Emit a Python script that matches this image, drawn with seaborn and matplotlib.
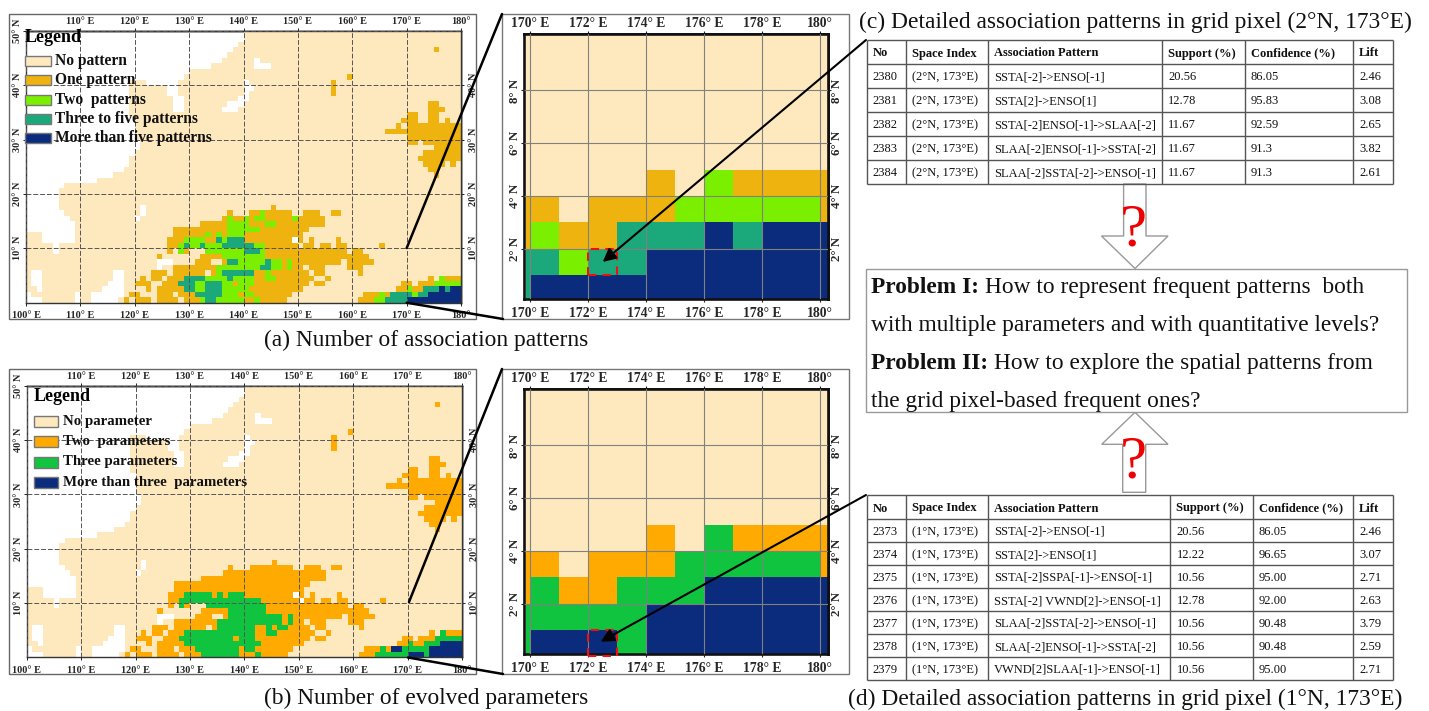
import matplotlib
matplotlib.use("Agg")
import matplotlib.pyplot as plt
from matplotlib.colors import ListedColormap
from matplotlib.patches import Polygon, Rectangle
import numpy as np
import seaborn as sns

W, H = 1429, 711

# Grid rows are run lengths: letter = class, number = last column (1 deg cells, from 100E)
# w = land (no data), n = none, a b c d = rising classes
UPPER_ROWS = [  # 50N down to 17N, same in both maps
    "w40 n80", "w40 n80", "w39 n80", "w38 n75 a76 n80", "w37 n80",
    "w36 n42 w43 n80", "w34 n42 w45 n80", "w30 n80", "w29 n59 a60 n80",
    "w19 n22 w28 n40 w41 n56 a57 n80", "w19 n26 w28 n40 w42 n56 a57 n80",
    "w19 n26 w28 n40 w41 n56 a57 n80", "w19 n27 w29 n39 w41 n80",
    "w19 n27 w29 n37 w40 n74 a76 n80", "w19 n27 w29 n36 w39 n74 a77 n80",
    "w19 n70 a72 n74 a76 n80", "w20 n69 a72 n74 a76 n77 a78 n80",
    "w20 n68 a69 n70 a80", "w20 n66 a80", "w20 n70 a80",
    "w21 n70 a72 n73 a80", "w21 n75 a80", "w20 n73 a80", "w19 n72 a80",
    "w19 n73 a77 n78 a79 n80", "w18 n74 a76 n80", "w16 n75 a76 n80",
    "w13 n80", "w7 n80", "w6 n80", "w6 n80", "w6 n80", "w6 n21 w22 n45 a46 n80",
]
PATTERN_ROWS = [  # 16N down to 0N
    "w7 n21 w22 n37 a38 n41 a43 b44 a49 n51 a54 n56 a58 n80",
    "w8 n20 w21 n36 a37 b38 a40 b41 a42 b44 a49 b50 a55 n80",
    "w9 n32 a37 b41 a44 b46 a55 n80",
    "w9 n27 a37 b43 a52 n80",
    "n3 w9 n27 a33 b34 a35 b36 a37 b40 a51 n80",
    "n3 w9 n26 a29 b33 a35 c36 b37 c40 a49 w50 a51 n52 a53 n57 a58 n80",
    "n5 w6 n26 a28 b29 c30 b32 c33 b36 c42 b44 a50 n51 a53 n54 a56 n57 a59 n65 a66 n80",
    "n5 w6 n26 a27 n28 b29 a30 n33 b40 c43 b44 a59 n60 a62 n80",
    "n24 a25 n32 a36 b44 a63 n80",
    "n24 w27 n31 a34 n36 a37 c39 b44 c45 b47 a48 b49 a58 n59 a64 n80",
    "n24 w25 n27 a35 b43 c45 b47 a48 b49 a51 n52 a55 n59 a62 n80",
    "n1 w3 n16 w18 n23 a26 n27 a33 n34 a35 b36 c42 a44 b45 a52 n53 a55 n61 a62 n80",
    "n1 w3 n16 w18 n21 a22 n23 a25 n26 a29 c33 b37 c38 b42 a44 b46 a53 n55 a56 n74 a75 n76 b77 a80",
    "n1 w3 n15 w18 n20 a23 n25 a28 c31 b33 c36 b38 a39 b42 a52 n53 a55 n69 a71 n72 a75 b80",
    "n2 w3 n14 w18 n22 a23 n24 a29 c31 b33 c36 b41 a51 n68 a70 b71 a73 c76 d77 c78 d80",
    "w1 n9 w10 n12 w18 n19 a21 n24 a27 n28 a31 c36 b39 a40 b42 a49 n62 a65 b66 a67 c71 b72 c74 d80",
    "w3 n9 w10 n12 w17 n18 a19 n20 a23 n24 a28 n29 a32 b33 c35 b40 a42 b43 a48 n61 a64 b66 c70 d80",
]
PARAM_ROWS = [  # 16N down to 0N
    "w7 n21 w22 n37 a38 n41 a49 n51 a54 n56 a58 n80",
    "w8 n20 w21 n36 a55 n80",
    "w9 n32 a55 n80",
    "w9 n27 a52 n80",
    "n3 w9 n27 a51 n80",
    "n3 w9 n26 a29 b34 a35 b36 a37 b40 a49 w50 a51 n52 a53 n57 a58 n80",
    "n5 w6 n26 a28 b43 a50 w51 a53 n54 a56 n57 a59 n65 a66 n80",
    "n5 w6 n26 a27 n28 b29 a30 n33 b44 a59 n60 a62 n80",
    "n24 a25 n32 a37 b44 a63 n80",
    "n24 w27 n31 a34 n36 a37 b47 a48 b49 a58 n59 a64 n80",
    "n24 w25 n27 a35 b47 a48 b49 a51 n52 a55 n59 a62 n80",
    "n1 w3 n16 w18 n23 a26 n27 a33 n34 a35 b42 a44 b45 a46 b48 a52 n53 a55 n61 a62 n80",
    "n1 w3 n16 w18 n21 a22 n23 a25 n26 a29 b42 a44 b46 a53 n55 a56 n74 a75 n76 b77 a80",
    "n1 w3 n15 w18 n20 a23 n25 a28 b38 a39 b42 a52 n53 a55 n69 a71 n72 a75 b80",
    "n2 w3 n14 w18 n22 a23 n24 a29 b43 a51 n68 a70 b71 a73 b76 c80",
    "w1 n9 w10 n12 w18 n19 a21 n24 a27 n28 a31 b39 a40 b42 a49 n62 a65 b66 a67 c69 b74 c80",
    "w3 n9 w10 n12 w17 n18 a19 n20 a23 n24 a28 n29 a32 b39 a42 b43 a48 n61 a64 b70 c73 b74 c80",
]
# cells just past 180E, seen only in the zoomed maps (0N up to 10N)
PATTERN_EDGE = [4, 4, 4, 1, 1, 0, 0, 0, 0, 0, 0]
PARAM_EDGE = [3, 3, 3, 1, 1, 0, 0, 0, 0, 0, 0]

PATTERN_COLORS = ["#FEE9BE", "#EFB30F", "#7AF000", "#1BA97C", "#0B2C7C"]
PARAM_COLORS = ["#FEE9BE", "#FFAA00", "#10C440", "#0B2C7C"]
PATTERN_LABELS = ["No pattern", "One pattern", "Two  patterns", "Three to five patterns", "More than five patterns"]
PARAM_LABELS = ["No parameter", "Two  parameters", "Three parameters", "More than three  parameters"]

LON_TICKS = [100, 110, 120, 130, 140, 150, 160, 170, 180]
LAT_TICKS = [10, 20, 30, 40, 50]
ZOOM_LON_TICKS = [170, 172, 174, 176, 178, 180]
ZOOM_LAT_TICKS = [2, 4, 6, 8]

TABLE_HEADER = ["No", "Space Index", "Association Pattern", "Support (%)", "Confidence (%)", "Lift"]
TABLE_C = [
    ["2380", "(2°N, 173°E)", "SSTA[-2]->ENSO[-1]", "20.56", "86.05", "2.46"],
    ["2381", "(2°N, 173°E)", "SSTA[2]->ENSO[1]", "12.78", "95.83", "3.08"],
    ["2382", "(2°N, 173°E)", "SSTA[-2]ENSO[-1]->SLAA[-2]", "11.67", "92.59", "2.65"],
    ["2383", "(2°N, 173°E)", "SLAA[-2]ENSO[-1]->SSTA[-2]", "11.67", "91.3", "3.82"],
    ["2384", "(2°N, 173°E)", "SLAA[-2]SSTA[-2]->ENSO[-1]", "11.67", "91.3", "2.61"],
]
TABLE_D = [
    ["2373", "(1°N, 173°E)", "SSTA[-2]->ENSO[-1]", "20.56", "86.05", "2.46"],
    ["2374", "(1°N, 173°E)", "SSTA[2]->ENSO[1]", "12.22", "96.65", "3.07"],
    ["2375", "(1°N, 173°E)", "SSTA[-2]SSPA[-1]->ENSO[-1]", "10.56", "95.00", "2.71"],
    ["2376", "(1°N, 173°E)", "SSTA[-2] VWND[2]->ENSO[-1]", "12.78", "92.00", "2.63"],
    ["2377", "(1°N, 173°E)", "SLAA[-2]SSTA[-2]->ENSO[-1]", "10.56", "90.48", "3.79"],
    ["2378", "(1°N, 173°E)", "SLAA[-2]ENSO[-1]->SSTA[-2]", "10.56", "90.48", "2.59"],
    ["2379", "(1°N, 173°E)", "VWND[2]SLAA[-1]->ENSO[-1]", "10.56", "95.00", "2.71"],
]

sns.set_theme(style="white")
plt.rcParams["font.family"] = ["Liberation Serif", "DejaVu Serif"]


def decode(rows):
    # rows come north first, the grid is returned south first
    codes = {"w": np.nan, "n": 0, "a": 1, "b": 2, "c": 3, "d": 4}
    grid = []
    for row in rows:
        cells = []
        for run in row.split():
            cells += [codes[run[0]]] * (int(run[1:]) - len(cells))
        grid.append(cells)
    return np.array(grid[::-1])


def px_axes(x0, y0, x1, y1):
    return fig.add_axes([x0 / W, 1 - y1 / H, (x1 - x0) / W, (y1 - y0) / H])


def rotate_y(ax_y):
    for t in ax_y.get_ticklabels():
        t.set_rotation(90)
        t.set_va("center")


def draw_map(grid, colors, box):
    ax = px_axes(*box)
    sns.heatmap(grid, ax=ax, mask=np.isnan(grid), cmap=ListedColormap(colors), vmin=0, vmax=len(colors) - 1,
                cbar=False, xticklabels=False, yticklabels=False)
    ax.set_xlim(0, 80)
    ax.set_ylim(0, 50)
    ax.set_xticks([v - 100 for v in LON_TICKS])
    ax.set_xticklabels([f"{v}° E" for v in LON_TICKS[:-1]] + ["180°"], fontsize=7.4, fontweight="bold")
    ax.set_yticks(LAT_TICKS)
    ax.set_yticklabels([f"{v}° N" for v in LAT_TICKS], fontsize=7.4, fontweight="bold")
    rotate_y(ax.yaxis)
    ax.tick_params(axis="x", length=2.5, width=0.7, pad=3.5, color="#222222", bottom=True)
    ax.tick_params(axis="y", length=2.5, width=0.7, pad=0.5, color="#222222", left=True)
    ax.grid(True, color="#555555", lw=0.7, ls=(0, (5, 2)))
    ax.set_axisbelow(False)
    top = ax.secondary_xaxis("top")
    top.set_xticks([v - 100 for v in LON_TICKS[1:]])
    top.set_xticklabels([f"{v}° E" for v in LON_TICKS[1:-1]] + ["180°"], fontsize=7.4, fontweight="bold")
    top.tick_params(length=2.5, width=0.7, pad=1, color="#222222")
    right = ax.secondary_yaxis("right")
    right.set_yticks(LAT_TICKS[:-1])
    right.set_yticklabels([f"{v}° N" for v in LAT_TICKS[:-1]], fontsize=7.4, fontweight="bold")
    right.tick_params(length=2.5, width=0.7, pad=3, color="#222222")
    rotate_y(right.yaxis)
    for sp in list(ax.spines.values()) + list(top.spines.values()) + list(right.spines.values()):
        sp.set_visible(True)
        sp.set_linewidth(1)
        sp.set_color("#333333")
    return ax


def draw_zoom(grid, edge, colors, box, cell_lat):
    # columns 169..180E, rows 0..10N
    sub = np.column_stack([grid[:11, 69:80], edge])
    ax = px_axes(*box)
    sns.heatmap(sub, ax=ax, cmap=ListedColormap(colors), vmin=0, vmax=len(colors) - 1,
                cbar=False, xticklabels=False, yticklabels=False)
    ax.set_xlim(0.79, 11.26)
    ax.set_ylim(0.1, 10.13)
    ax.axvspan(0.79, 0.85, color="white", lw=0, zorder=1)
    ax.axhspan(10.05, 10.13, color="white", lw=0, zorder=1)
    ax.set_xticks([v - 169 for v in ZOOM_LON_TICKS])
    labels = [f"{v}° E" for v in ZOOM_LON_TICKS[:-1]] + ["180°"]
    ax.set_xticklabels(labels, fontsize=9.8, fontweight="bold")
    ax.set_yticks(ZOOM_LAT_TICKS)
    ax.set_yticklabels([f"{v}° N" for v in ZOOM_LAT_TICKS], fontsize=9.4, fontweight="bold")
    rotate_y(ax.yaxis)
    ax.tick_params(axis="x", length=2.5, width=0.8, pad=3.5, color="#222222", bottom=True)
    ax.tick_params(axis="y", length=2.5, width=0.8, pad=0, color="#222222", left=True)
    ax.grid(True, color="#808080", lw=0.8)
    ax.set_axisbelow(False)
    top = ax.secondary_xaxis("top")
    top.set_xticks([v - 169 for v in ZOOM_LON_TICKS])
    top.set_xticklabels(labels, fontsize=9.8, fontweight="bold")
    top.tick_params(length=2.5, width=0.8, pad=0.5, color="#222222")
    right = ax.secondary_yaxis("right")
    right.set_yticks(ZOOM_LAT_TICKS)
    right.set_yticklabels([f"{v}° N" for v in ZOOM_LAT_TICKS], fontsize=9.4, fontweight="bold")
    right.tick_params(length=2.5, width=0.8, pad=0, color="#222222")
    rotate_y(right.yaxis)
    for sp in list(ax.spines.values()) + list(top.spines.values()) + list(right.spines.values()):
        sp.set_visible(True)
        sp.set_linewidth(1.9)
        sp.set_color("#111111")
    ax.add_patch(Rectangle((3, cell_lat), 1, 1, fill=False, ec="#EE1111", lw=1.5, ls=(0, (4, 3)), zorder=5, clip_on=False))
    return ax


def legend(x_patch, x_text, ys, labels, colors, title_xy, title_size, size, patch_w, patch_h):
    over.text(title_xy[0], title_xy[1], "Legend", fontsize=title_size, fontweight="bold", va="center", color="black")
    for y, lab, col in zip(ys, labels, colors):
        over.add_patch(Rectangle((x_patch, y - patch_h / 2), patch_w, patch_h, fc=col, ec="#777777", lw=1))
        over.text(x_text, y, lab, fontsize=size, fontweight="bold", va="center", color="#111111")


def table(xs, ys, header, rows):
    for x in xs:
        over.plot([x, x], [ys[0], ys[-1]], color="#555555", lw=1, solid_capstyle="butt")
    for y in ys:
        over.plot([xs[0], xs[-1]], [y, y], color="#555555", lw=1, solid_capstyle="butt")
    for j, name in enumerate(header):
        over.text(xs[j] + 6, (ys[0] + ys[1]) / 2, name, fontsize=9, fontweight="bold", va="center_baseline", color="#111111")
    for i, row in enumerate(rows):
        for j, val in enumerate(row):
            over.text(xs[j] + 6, (ys[i + 1] + ys[i + 2]) / 2, val, fontsize=9, va="center_baseline", color="#111111")


def block_arrow(points, qx, qy):
    over.add_patch(Polygon(points, closed=True, fc="white", ec="#999999", lw=1))
    over.text(qx, qy, "?", color="#EE0000", fontsize=44, ha="center", va="baseline")


fig = plt.figure(figsize=(W / 100, H / 100), dpi=100)

pattern_grid = decode(UPPER_ROWS + PATTERN_ROWS)
param_grid = decode(UPPER_ROWS + PARAM_ROWS)

draw_map(pattern_grid, PATTERN_COLORS, (26, 30.7, 461, 302.7))
draw_map(param_grid, PARAM_COLORS, (26.7, 385.7, 462, 657.3))
draw_zoom(pattern_grid, PATTERN_EDGE, PATTERN_COLORS, (524, 34.3, 827.7, 298.7), 1)
draw_zoom(param_grid, PARAM_EDGE, PARAM_COLORS, (524, 389.3, 827.7, 653.7), 0)

# everything else sits on one sheet in pixel units
over = px_axes(0, 0, W, H)
over.set_xlim(0, W)
over.set_ylim(H, 0)
over.axis("off")
over.patch.set_alpha(0)

for y0, y1 in [(14, 319), (369, 674)]:
    over.add_patch(Rectangle((9.5, y0), 466.5, y1 - y0, fill=False, ec="#666666", lw=1))
    over.add_patch(Rectangle((502, y0), 347, y1 - y0, fill=False, ec="#777777", lw=1))

for x0, y0, x1, y1 in [(406.7, 248, 502, 14), (406.7, 302.7, 503, 319), (409, 602, 502, 369), (408, 657.5, 503, 674)]:
    over.plot([x0, x1], [y0, y1], color="black", lw=1.8, solid_capstyle="round")

legend(25, 55, [60.7, 80.3, 99.7, 119, 138.3], PATTERN_LABELS, PATTERN_COLORS, (25, 38), 13, 11.2, 25.7, 10)
legend(34, 62.7, [421, 441.7, 462, 482.3], PARAM_LABELS, PARAM_COLORS, (34, 396.7), 13, 10.7, 24, 11)

over.text(426, 340, "(a) Number of association patterns", fontsize=16.8, ha="center", va="center", color="#111111")
over.text(426, 698, "(b) Number of evolved parameters", fontsize=16.8, ha="center", va="center", color="#111111")
over.text(859, 22, "(c) Detailed association patterns in grid pixel (2°N, 173°E)", fontsize=16.9, va="center", color="#111111")
over.text(848, 699, "(d) Detailed association patterns in grid pixel (1°N, 173°E)", fontsize=16.9, va="center", color="#111111")

block_arrow([(1123.6, 184), (1146, 184), (1146, 236), (1168, 236), (1135, 268.5), (1101.5, 236), (1123.6, 236)], 1133, 245)
block_arrow([(1135, 412.3), (1168, 444.3), (1145.7, 444.3), (1145.7, 492.3), (1122.7, 492.3), (1122.7, 444.3), (1101.7, 444.3)], 1133, 477)

table([866.7, 905.7, 988, 1162, 1245, 1353, 1393], [40, 64, 88, 112, 136, 160, 184], TABLE_HEADER, TABLE_C)
table([866.7, 905.7, 988, 1170.5, 1253, 1353, 1393], [495, 519, 542, 565, 588, 611, 634, 657, 680], TABLE_HEADER, TABLE_D)

over.add_patch(Rectangle((866.3, 269), 540.5, 142.7, fc="white", ec="#999999", lw=1))
over.text(870.7, 293, "Problem I:", fontsize=16.8, fontweight="bold", va="baseline", color="#111111")
over.text(985, 293, "How to represent frequent patterns  both", fontsize=16.8, va="baseline", color="#111111")
over.text(870.7, 330.7, "with multiple parameters and with quantitative levels?", fontsize=16.8, va="baseline", color="#111111")
over.text(870.7, 369, "Problem II:", fontsize=16.8, fontweight="bold", va="baseline", color="#111111")
over.text(994, 369, "How to explore the spatial patterns from", fontsize=16.8, va="baseline", color="#111111")
over.text(870.7, 406.7, "the grid pixel-based frequent ones?", fontsize=16.8, va="baseline", color="#111111")

for start, end in [((866, 40), (602.7, 262)), ((866, 495), (600.7, 641.7))]:
    over.annotate("", xy=end, xytext=start,
                  arrowprops=dict(arrowstyle="-|>", color="black", lw=1.5, mutation_scale=20, shrinkA=0, shrinkB=0))

fig.savefig("out.png", dpi=100, facecolor="white")
